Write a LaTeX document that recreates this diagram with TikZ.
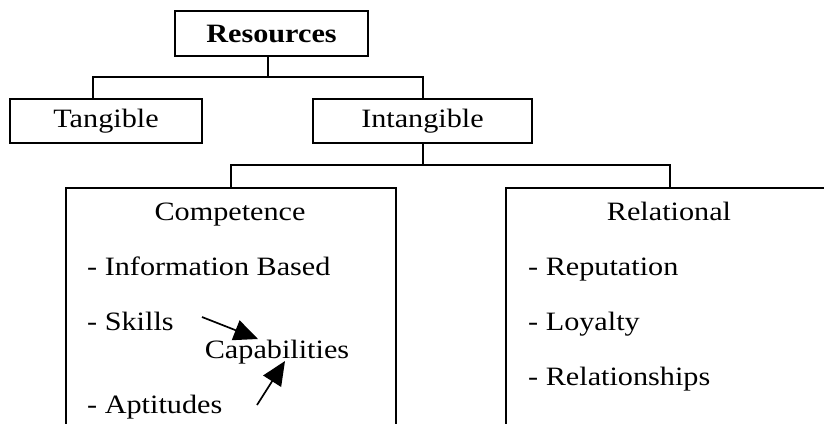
\documentclass[tikz,border=0pt]{standalone}
\usepackage{fontspec}
\setmainfont{Liberation Serif}[FakeStretch=1.14]
\usetikzlibrary{arrows.meta,calc}
\begin{document}
\begin{tikzpicture}[x=1pt,y=-1pt,
  box/.style={draw,line width=1.8pt,rectangle,inner sep=0pt,font=\fontsize{26.5}{30}\selectfont},
  txt/.style={inner sep=0pt,font=\fontsize{26.5}{30}\selectfont},
  item/.style={txt,anchor=base west},
  conn/.style={line width=1.5pt},
  arr/.style={line width=1.7pt,-{Triangle[length=24pt,width=21pt]}}]
\useasboundingbox (0,0) rectangle (824,423);
\clip (0,0) rectangle (824,423);
\fill[white] (0,0) rectangle (824,423);
% top levels
\node[box,minimum width=193pt,minimum height=45pt,font=\fontsize{26.5}{30}\selectfont\bfseries] (res) at (271.5,33.5) {Resources};
\node[box,minimum width=192pt,minimum height=44pt] (tan) at (106,121) {Tangible};
\node[box,minimum width=219pt,minimum height=44pt] (int) at (422.5,121) {Intangible};
% lower boxes (open at bottom, cut by the frame)
\node[box,minimum width=330pt,minimum height=260pt,anchor=north west] (comp) at (65,187) {};
\node[box,minimum width=340pt,minimum height=260pt,anchor=north west] (rel) at (505,187) {};
% junctions
\coordinate (j1) at (268,77);
\coordinate (ta) at (93,99);
\coordinate (j2) at (423,165);
\coordinate (ca) at (231,187);
\coordinate (ra) at (670,187);
\draw[conn] (res.south -| j1) -- (j1);
\draw[conn] (ta) |- (j1) -| (int.north -| j2);
\draw[conn] (int.south -| j2) -- (j2);
\draw[conn] (ca) |- (j2) -| (ra);
% competence contents
\node[txt,anchor=base] (ctitle) at (230,220) {Competence};
\node[item] (info) at (87,275) {- Information Based};
\node[item] (skills) at (87,330) {- Skills};
\node[txt,anchor=base] (cap) at (277,358) {Capabilities};
\node[item] (apt) at (87,413) {- Aptitudes};
\coordinate (s1) at (202,317);
\coordinate (s2) at (258,339);
\coordinate (a1) at (257,405);
\coordinate (a2) at (285,361);
\draw[arr] (s1) -- (s2);
\draw[arr] (a1) -- (a2);
% relational contents
\node[txt,anchor=base] (rtitle) at (669,220) {Relational};
\node[item] (rep) at (528,275) {- Reputation};
\node[item] (loy) at (528,330) {- Loyalty};
\node[item] (rels) at (528,385) {- Relationships};
\end{tikzpicture}
\end{document}
